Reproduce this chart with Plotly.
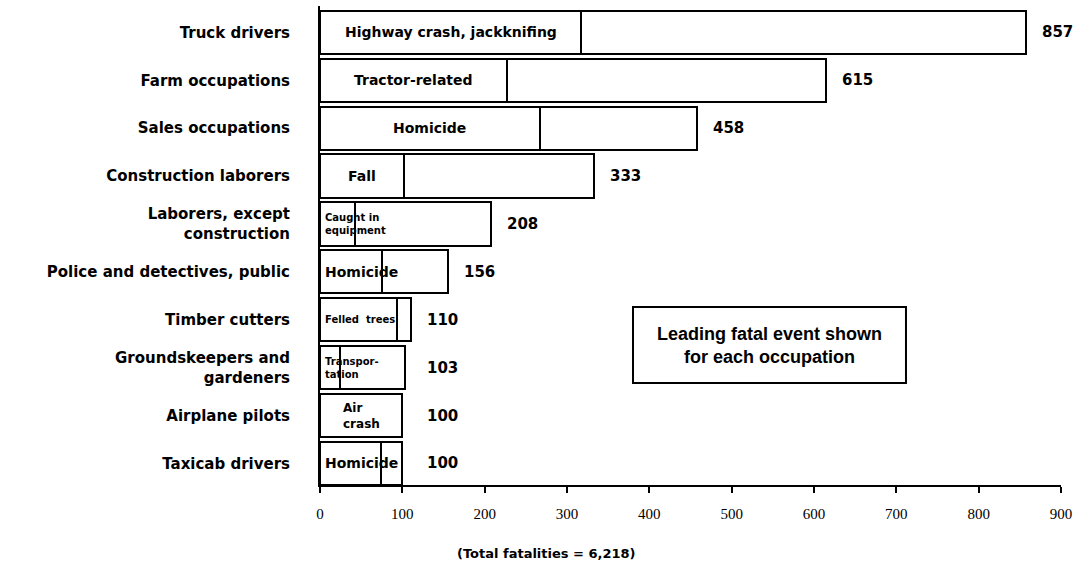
import plotly.graph_objects as go

occupations = ["Truck drivers", "Farm occupations", "Sales occupations", "Construction laborers",
               "Laborers, except<br>construction", "Police and detectives, public", "Timber cutters",
               "Groundskeepers and<br>gardeners", "Airplane pilots", "Taxicab drivers"]
totals = [857, 615, 458, 333, 208, 156, 110, 103, 100, 100]
leading_event = [317, 227, 267, 102, 42, 75, 93, 24, 100, 74]
event_labels = ["Highway crash, jackknifing", "Tractor-related", "Homicide", "Fall",
                "Caught in<br>equipment", "Homicide", "Felled  trees", "Transpor-<br>tation",
                "Air<br>crash", "Homicide"]
x_ticks = [0, 100, 200, 300, 400, 500, 600, 700, 800, 900]

rest = [t - e for t, e in zip(totals, leading_event)]
WIDE = "DejaVu Sans"
ARIAL = "Liberation Sans"

fig = go.Figure()
fig.add_trace(go.Bar(y=occupations, x=leading_event, orientation="h", width=0.9,
                     marker=dict(color="white", line=dict(color="black", width=2)),
                     hoverinfo="x+y", showlegend=False))
fig.add_trace(go.Bar(y=occupations, x=rest, orientation="h", width=0.9,
                     marker=dict(color="white", line=dict(color="black", width=2)),
                     hoverinfo="x+y", showlegend=False))

annotations = []
# total value labels
for occ, t in zip(occupations, totals):
    annotations.append(dict(x=max(t, 110), y=occ, xref="x", yref="y", text=f"<b>{t}</b>",
                            showarrow=False, xanchor="left", xshift=14,
                            font=dict(family=WIDE, size=15, color="black")))
# leading event labels
for occ, e, lab in zip(occupations, leading_event, event_labels):
    small = e < 95
    if small and len(lab) > 8:
        size = 10
    elif "<br>" in lab:
        size = 12
    else:
        size = 14
    if small:
        annotations.append(dict(x=0, y=occ, xref="x", yref="y", text=f"<b>{lab}</b>",
                                showarrow=False, xanchor="left", xshift=3, align="left",
                                font=dict(family=WIDE, size=size, color="black")))
    else:
        annotations.append(dict(x=e / 2, y=occ, xref="x", yref="y", text=f"<b>{lab}</b>",
                                showarrow=False, xanchor="center", align="left",
                                font=dict(family=WIDE, size=size, color="black")))

annotations.append(dict(x=0.6066, y=0.292, xref="paper", yref="paper",
                        text="<b>Leading fatal event shown<br>for each occupation</b>",
                        showarrow=False, xanchor="center", yanchor="middle",
                        font=dict(family=ARIAL, size=18, color="black")))
annotations.append(dict(x=0.305, y=-0.142, xref="paper", yref="paper",
                        text="<b>(Total fatalities = 6,218)</b>", showarrow=False,
                        xanchor="center", yanchor="middle",
                        font=dict(family=WIDE, size=13, color="black")))

fig.update_layout(
    width=1086, height=562,
    margin=dict(l=320, r=25, t=6, b=77),
    paper_bgcolor="white", plot_bgcolor="white",
    barmode="stack", bargap=0.1,
    annotations=annotations,
    shapes=[dict(type="rect", xref="paper", yref="paper", x0=0.4224, x1=0.7908,
                 y0=0.213, y1=0.3716, line=dict(color="black", width=2), fillcolor="rgba(0,0,0,0)")],
    xaxis=dict(range=[0, 900], tickvals=x_ticks, ticktext=[str(v) for v in x_ticks],
               showgrid=False, zeroline=False, showline=True, linecolor="black", linewidth=2,
               ticks="outside", ticklen=6, tickwidth=2, tickcolor="black", ticklabelstandoff=8,
               tickfont=dict(family="Liberation Serif", size=15, color="black")),
    yaxis=dict(categoryorder="array", categoryarray=occupations, range=[9.45, -0.55],
               showgrid=False, zeroline=False, showline=True, linecolor="black", linewidth=2,
               ticks="", ticklabelstandoff=25,
               tickfont=dict(family=WIDE, size=15, color="black", weight="bold")),
)

fig.write_html("out.html", config={"displayModeBar": False},
               post_script="document.body.style.margin='0';")
